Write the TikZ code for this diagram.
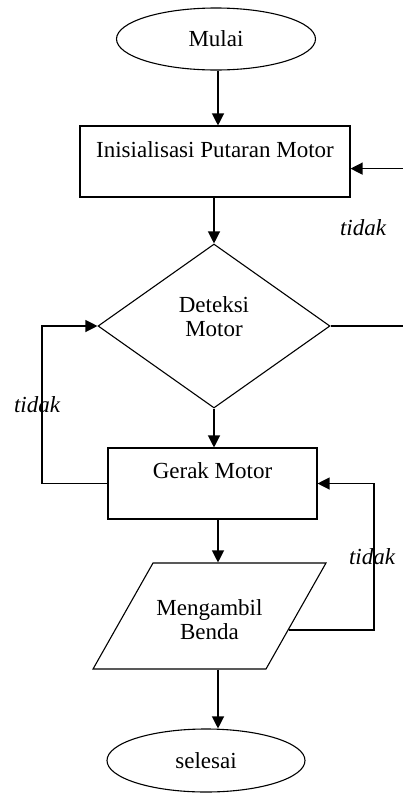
\documentclass[tikz,border=0pt]{standalone}
\usepackage{fontspec}
\setmainfont{Liberation Serif}
\usetikzlibrary{shapes.geometric,arrows.meta}
\begin{document}
\begin{tikzpicture}[x=1pt,y=-1pt,
  every node/.style={font=\fontsize{23}{24}\selectfont},
  base/.style={draw=black,line width=1.1pt,inner sep=0pt},
  term/.style={base,ellipse,minimum width=199pt,minimum height=62pt},
  proc/.style={base,rectangle,minimum width=270pt,minimum height=71pt,align=center},
  deci/.style={base,diamond,minimum width=232pt,minimum height=164pt,align=center},
  io/.style={base,trapezium,trapezium left angle=60.5,trapezium right angle=119.5},
  arr/.style={line width=1.2pt,-{Triangle[length=12pt,width=12pt]}},
  ln/.style={line width=1.2pt},
  lbl/.style={font=\fontsize{23}{24}\selectfont\itshape}]
\useasboundingbox (0,0) rectangle (403,793);
\coordinate (edge) at (403,0);
\coordinate (lx) at (42,0);
\coordinate (rx) at (374,0);

\node[term] (mulai) at (216,39) {Mulai};
\node[proc] (init) at (215,161.5) {Inisialisasi Putaran Motor\\[-8pt]\strut};
\node[deci] (dia) at (214,326) {Deteksi\\Motor\\[-6pt]};
\node[proc,minimum width=209pt] (gerak) at (212.5,483.5) {Gerak Motor\\[-6pt]\strut};
\node[io] (para) at (209.5,616) {\parbox[c][106pt][c]{113pt}{\centering\vspace*{8pt}Mengambil\\Benda}};
\node[term,minimum width=198pt,minimum height=63pt] (selesai) at (206,760.5) {selesai};

\node[lbl] (t1) at (363,228) {tidak};
\node[lbl] (t2) at (37,405) {tidak};
\node[lbl] (t3) at (372,557) {tidak};

\draw[arr] (mulai.south -| 218,0) -- (218,0 |- init.north);
\draw[arr] (dia.north |- init.south) -- (dia.north);
\draw[arr] (dia.south) -- (gerak.north -| dia.south);
\draw[arr] (gerak.south -| 218,0) -- (218,0 |- para.north);
\draw[arr] (218,0 |- para.south) -- (218,0 |- selesai.north);

\draw[ln] (dia.east) -- (dia.east -| edge);
\draw[arr] (init.-3 -| edge) -- (init.-3);
\draw[arr] (gerak.west) -| (lx |- dia.west) -- (dia.west);
\draw[arr] (para.-10) -| (rx |- gerak.east) -- (gerak.east);
\end{tikzpicture}
\end{document}
